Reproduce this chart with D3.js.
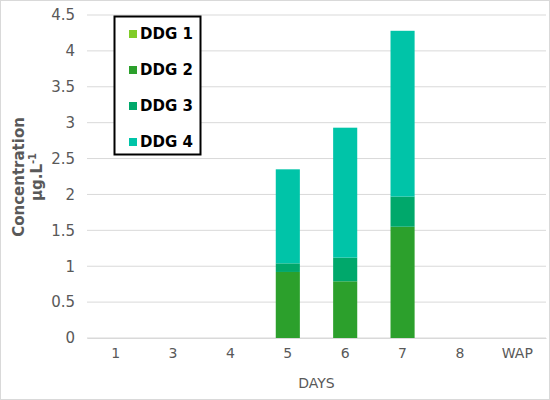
<!DOCTYPE html><html><head><script src="https://cdn.jsdelivr.net/npm/d3@7"></script>
<style>body{margin:0;background:#fff}</style></head><body><svg id="c" width="550" height="400"></svg>
<script>
const categories=["1","3","4","5","6","7","8","WAP"];
const series=["DDG 1","DDG 2","DDG 3","DDG 4"];
const ddg1=[0,0,0,0,0,0,0,0];
const ddg2=[0,0,0,0.92,0.79,1.55,0,0];
const ddg3=[0,0,0,0.12,0.33,0.42,0,0];
const ddg4=[0,0,0,1.31,1.81,2.31,0,0];
const colors=["#80cc28","#2ca02c","#00a86b","#00c4a8"];
const yTicks=[0,0.5,1,1.5,2,2.5,3,3.5,4,4.5];
const font="'Century Gothic','DejaVu Sans',sans-serif";
const svg=d3.select("#c");
svg.append("rect").attr("x",0.5).attr("y",0.5).attr("width",549).attr("height",399).attr("fill","#fff").attr("stroke","#d9d9d9");
const L=87,R=546,T=15,B=338;
const x=d3.scaleBand().domain(categories).range([L,R]).paddingInner(0.58).paddingOuter(0.29);
const y=d3.scaleLinear().domain([0,4.5]).range([B,T]);
svg.append("g").selectAll("line").data(yTicks).join("line").attr("x1",L).attr("x2",R).attr("y1",d=>y(d)).attr("y2",d=>y(d)).attr("stroke","#d9d9d9");
const data=categories.map((c,i)=>({c,"DDG 1":ddg1[i],"DDG 2":ddg2[i],"DDG 3":ddg3[i],"DDG 4":ddg4[i]}));
const st=d3.stack().keys(series)(data);
svg.append("g").selectAll("g").data(st).join("g").attr("fill",(d,i)=>colors[i]).selectAll("rect").data(d=>d).join("rect")
 .attr("x",d=>x(d.data.c)).attr("width",x.bandwidth()).attr("y",d=>y(d[1])).attr("height",d=>y(d[0])-y(d[1]));
const ya=svg.append("g").attr("transform",`translate(${L},0)`).call(d3.axisLeft(y).tickValues(yTicks).tickSize(0).tickPadding(12).tickFormat(d3.format("")));
ya.select(".domain").remove();
ya.selectAll("text").attr("font-family",font).attr("font-size",15).attr("fill","#595959");
const xa=svg.append("g").attr("transform",`translate(0,${B})`).call(d3.axisBottom(x).tickSize(0).tickPadding(10));
xa.select(".domain").attr("stroke","#d9d9d9");
xa.selectAll("text").attr("font-family",font).attr("font-size",14).attr("fill","#595959");
svg.append("text").attr("x",(L+R)/2).attr("y",388).attr("text-anchor","middle").attr("font-family",font).attr("font-size",14).attr("fill","#595959").text("DAYS");
const yl=svg.append("text").attr("transform","translate(24,177) rotate(-90)").attr("text-anchor","middle").attr("font-family",font).attr("font-size",15).attr("font-weight","bold").attr("fill","#595959");
yl.append("tspan").attr("x",0).attr("dy",0).text("Concentration");
const t2=yl.append("tspan").attr("x",0).attr("dy",18).text("µg.L");
t2.append("tspan").attr("dy",-6).attr("font-size",10).text("-1");
const lg=svg.append("g");
lg.append("rect").attr("x",114.5).attr("y",16.5).attr("width",86).attr("height",138).attr("fill","#fff").attr("stroke","#000").attr("stroke-width",2);
series.forEach((s,i)=>{const yy=34+i*36;
 lg.append("rect").attr("x",129).attr("y",yy-4).attr("width",8).attr("height",8).attr("fill",colors[i]);
 lg.append("text").attr("x",140).attr("y",yy+5).attr("font-family",font).attr("font-size",15).attr("font-weight","bold").attr("fill","#000").text(s);});
</script></body></html>
